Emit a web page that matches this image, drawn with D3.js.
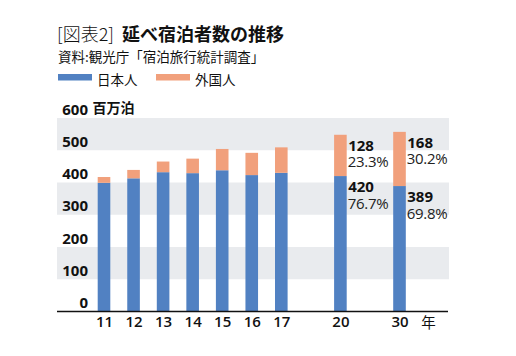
<!DOCTYPE html>
<html><head><meta charset="utf-8">
<script src="https://cdn.jsdelivr.net/npm/d3@7/dist/d3.min.js"></script>
<style>
body{margin:0;background:#fff;}
svg{display:block;font-family:"Open Sans","Noto Sans CJK JP",sans-serif;}
</style></head>
<body><svg id="c" width="516" height="356"></svg>
<script>
const categories = ["11","12","13","14","15","16","17","20","30"];
const japanese = [399, 413, 432, 429, 438, 423, 430, 420, 389];
const foreign  = [18, 26, 33, 45, 66, 69, 79, 128, 168];
const japanesePct = {"20":"76.7%","30":"69.8%"};
const foreignPct  = {"20":"23.3%","30":"30.2%"};
const yTicks = [0,100,200,300,400,500,600];
const seriesNames = ["日本人","外国人"];
const colors = ["#5181c2","#f1a07c"];

const svg = d3.select("#c");
const y = d3.scaleLinear().domain([0,600]).range([311.5,118]);
// slot positions: years 11-17 consecutive, then gaps before 20 and 30
const slot = (c,i) => i < 7 ? i : (c === "20" ? 8 : 10);
const x = d3.scaleLinear().domain([0,10]).range([104,399.5]);
const bw = 12.6;
const left = 57, right = 449;

// bands
yTicks.slice(0,-1).forEach(t => {
  if ((t/100) % 2 === 1) {
    svg.append("rect").attr("x",left).attr("width",right-left)
      .attr("y",y(t+100)).attr("height",y(t)-y(t+100)).attr("fill","#e9ebee");
  }
});

// Title
const title = svg.append("text").attr("x",57).attr("y",40.5).attr("font-size",18)
  .attr("font-family","'Noto Sans CJK JP',sans-serif").attr("fill","#111");
title.append("tspan").attr("font-weight",300).text("[図表2]");
title.append("tspan").attr("font-weight",700).attr("x",122).text("延べ宿泊者数の推移");
svg.append("text").attr("x",58).attr("y",62).attr("font-size",13.5)
  .attr("font-family","'Noto Sans CJK JP',sans-serif").attr("fill","#111")
  .text("資料:観光庁「宿泊旅行統計調査」");

// legend
const legX = [58,156];
seriesNames.forEach((n,i)=>{
  svg.append("rect").attr("x",legX[i]).attr("y",74).attr("width",34).attr("height",6.5).attr("fill",colors[i]);
  svg.append("text").attr("x",legX[i]+39).attr("y",84.5).attr("font-size",13.5)
    .attr("font-family","'Noto Sans CJK JP',sans-serif").attr("fill","#111").text(n);
});

// y axis labels
const yAxis = d3.axisLeft(y).tickValues(yTicks).tickSize(0).tickPadding(0);
const yg = svg.append("g").attr("transform","translate(88,0)").call(yAxis);
yg.select(".domain").remove();
yg.selectAll("text").attr("dy",-4).attr("font-size",15).attr("font-weight",700)
  .attr("font-family","'Open Sans',sans-serif").attr("fill","#111");
svg.append("text").attr("x",92.5).attr("y",y(600)-5).attr("font-size",14).attr("font-weight",700)
  .attr("font-family","'Noto Sans CJK JP',sans-serif").attr("fill","#111").text("百万泊");

// bars
categories.forEach((c,i)=>{
  const cx = x(slot(c,i));
  svg.append("rect").attr("x",cx-bw/2).attr("width",bw)
    .attr("y",y(japanese[i])).attr("height",y(0)-y(japanese[i])).attr("fill",colors[0]);
  svg.append("rect").attr("x",cx-bw/2).attr("width",bw)
    .attr("y",y(japanese[i]+foreign[i])).attr("height",y(japanese[i])-y(japanese[i]+foreign[i])).attr("fill",colors[1]);
  if (japanesePct[c]) {
    const tx = cx + bw/2 + 1.5;
    const lab = [[japanese[i]+foreign[i], foreign[i], foreignPct[c]],[japanese[i], japanese[i], japanesePct[c]]];
    lab.forEach(([top,val,pct])=>{
      svg.append("text").attr("x",tx).attr("y",y(top)+16).attr("font-size",15).attr("font-weight",700)
        .attr("fill","#111").text(val);
      svg.append("text").attr("x",tx-0.5).attr("y",y(top)+32.5).attr("font-size",15).attr("font-weight",400)
        .attr("letter-spacing",-0.3).attr("fill","#222").text(pct);
    });
  }
});

// x axis
const slots = categories.map((c,i)=>slot(c,i));
const xAxis = d3.axisBottom(x).tickValues(slots)
  .tickFormat(d=>categories[slots.indexOf(d)]).tickSize(0).tickPadding(5);
const xg = svg.append("g").attr("transform",`translate(0,${y(0)})`).call(xAxis);
xg.select(".domain").remove();
xg.selectAll("text").attr("font-size",15).attr("font-weight",600).attr("fill","#111").attr("font-family","'Open Sans',sans-serif");
svg.append("line").attr("x1",left).attr("x2",right-1).attr("y1",y(0)).attr("y2",y(0))
  .attr("stroke","#111").attr("stroke-width",1.3);
svg.append("text").attr("x",428.5).attr("y",328).attr("text-anchor","middle").attr("font-size",14.5)
  .attr("font-family","'Noto Sans CJK JP',sans-serif").attr("fill","#111").text("年");
</script></body></html>
